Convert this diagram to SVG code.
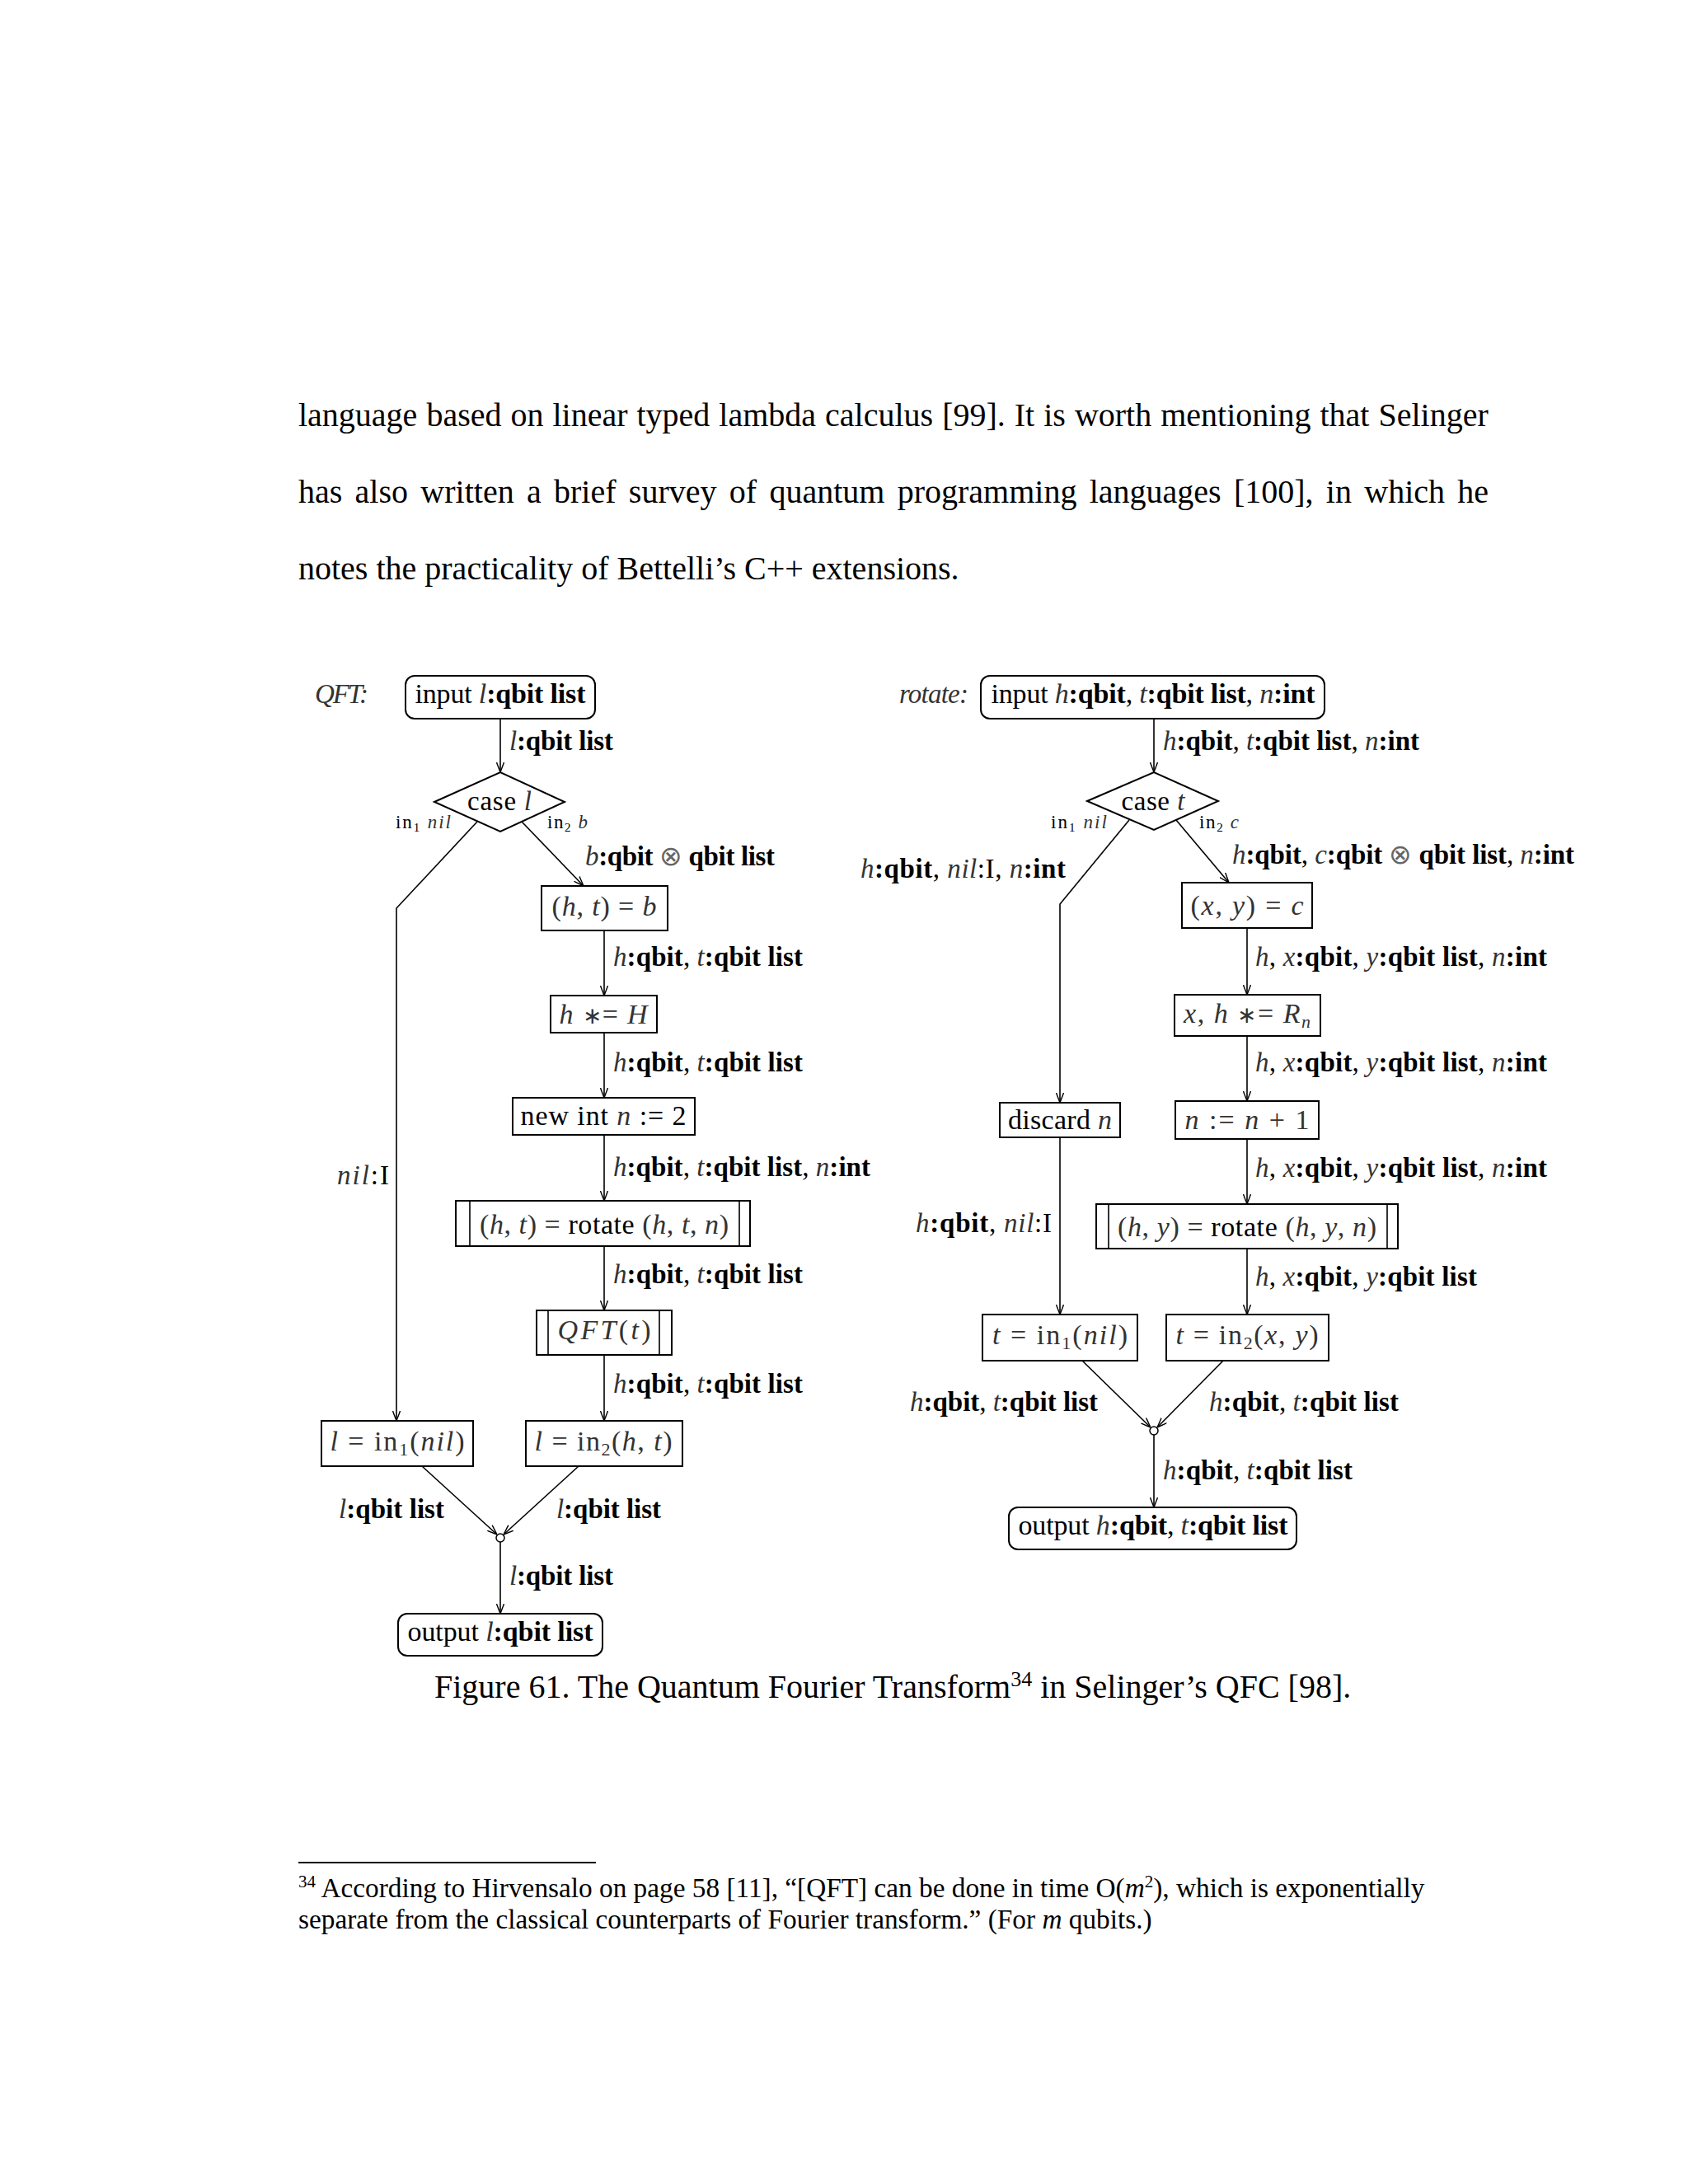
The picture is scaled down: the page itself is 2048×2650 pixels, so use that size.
<svg xmlns="http://www.w3.org/2000/svg" width="2048" height="2650" viewBox="0 0 2048 2650">
<defs>
<style>
.t{font-family:"Liberation Serif","Times New Roman",serif;font-size:33px;fill:#000}
.n{font-size:34px}
.i{font-style:italic;fill:#333}
.b{font-weight:bold}
.m{fill:#333}
.sm{font-size:23px}
.sb{font-size:22px}
.ast{font-size:28px}
.body{font-family:"Liberation Serif","Times New Roman",serif;font-size:40px;fill:#000}
.fn{font-family:"Liberation Serif","Times New Roman",serif;font-size:33.3px;fill:#000}
.box{fill:#fff;stroke:#000;stroke-width:2}
.edge{fill:none;stroke:#000;stroke-width:1.6}
.ea{fill:none;stroke:#000;stroke-width:1.6;marker-end:url(#arr)}
.dot{fill:#fff;stroke:#000;stroke-width:1.5}
</style>
<marker id="arr" viewBox="0 0 12 10" refX="12" refY="5" markerWidth="12" markerHeight="10" markerUnits="userSpaceOnUse" orient="auto">
<path d="M0,0.5 L12,5 L0,9.5" fill="none" stroke="#000" stroke-width="1.4"/>
</marker>
</defs>
<rect width="2048" height="2650" fill="#fff"/>

<g id="body-text">
<text class="body" x="362" y="517" word-spacing="1">language based on linear typed lambda calculus [99]. It is worth mentioning that Selinger</text>
<text class="body" x="362" y="610" word-spacing="5.3">has also written a brief survey of quantum programming languages [100], in which he</text>
<text class="body" x="362" y="703">notes the practicality of Bettelli’s C++ extensions.</text>
</g>

<g id="connectors">
<path class="ea" d="M607,872 V937"/>
<path class="ea" d="M579,997 L481,1102 V1724"/>
<path class="ea" d="M633,997 L708,1075"/>
<path class="ea" d="M733,1129 V1208"/>
<path class="ea" d="M733,1253 V1332"/>
<path class="ea" d="M733,1377 V1457"/>
<path class="ea" d="M733,1512 V1590"/>
<path class="ea" d="M733,1644 V1724"/>
<path class="ea" d="M512,1779 L603,1862"/>
<path class="ea" d="M702,1779 L611,1862"/>
<path class="ea" d="M607,1871 V1958"/>

<path class="ea" d="M1400,872 V937"/>
<path class="ea" d="M1370,995 L1286,1097 V1338"/>
<path class="ea" d="M1286,1380 V1595"/>
<path class="ea" d="M1427,995 L1491,1071"/>
<path class="ea" d="M1513,1126 V1207"/>
<path class="ea" d="M1513,1257 V1336"/>
<path class="ea" d="M1513,1382 V1461"/>
<path class="ea" d="M1513,1515 V1595"/>
<path class="ea" d="M1313,1651 L1396,1732"/>
<path class="ea" d="M1484,1651 L1404,1732"/>
<path class="ea" d="M1400,1741 V1829"/>
</g>

<g id="edge-labels">
<text class="t" x="618" y="910" textLength="126" lengthAdjust="spacing"><tspan class="i">l</tspan><tspan class="b">:qbit list</tspan></text>
<text class="t sm" x="480" y="1005" textLength="67" lengthAdjust="spacing">in<tspan font-size="15" dy="4">1</tspan><tspan class="i" dy="-4"> nil</tspan></text>
<text class="t sm" x="664" y="1005" textLength="49" lengthAdjust="spacing">in<tspan font-size="15" dy="4">2</tspan><tspan class="i" dy="-4"> b</tspan></text>
<text class="t" x="710" y="1050" textLength="230" lengthAdjust="spacing"><tspan class="i">b</tspan><tspan class="b">:qbit </tspan><tspan fill="#666">⊗</tspan><tspan class="b"> qbit list</tspan></text>
<text class="t" x="744" y="1172" textLength="230" lengthAdjust="spacing"><tspan class="i">h</tspan><tspan class="b">:qbit</tspan>, <tspan class="i">t</tspan><tspan class="b">:qbit list</tspan></text>
<text class="t" x="744" y="1300" textLength="230" lengthAdjust="spacing"><tspan class="i">h</tspan><tspan class="b">:qbit</tspan>, <tspan class="i">t</tspan><tspan class="b">:qbit list</tspan></text>
<text class="t" x="744" y="1427" textLength="312" lengthAdjust="spacing"><tspan class="i">h</tspan><tspan class="b">:qbit</tspan>, <tspan class="i">t</tspan><tspan class="b">:qbit list</tspan>, <tspan class="i">n</tspan><tspan class="b">:int</tspan></text>
<text class="t" x="744" y="1557" textLength="230" lengthAdjust="spacing"><tspan class="i">h</tspan><tspan class="b">:qbit</tspan>, <tspan class="i">t</tspan><tspan class="b">:qbit list</tspan></text>
<text class="t" x="744" y="1690" textLength="230" lengthAdjust="spacing"><tspan class="i">h</tspan><tspan class="b">:qbit</tspan>, <tspan class="i">t</tspan><tspan class="b">:qbit list</tspan></text>
<text class="t" x="409" y="1437" textLength="63" lengthAdjust="spacing"><tspan class="i">nil</tspan>:I</text>
<text class="t" x="411" y="1842" textLength="128" lengthAdjust="spacing"><tspan class="i">l</tspan><tspan class="b">:qbit list</tspan></text>
<text class="t" x="675" y="1842" textLength="127" lengthAdjust="spacing"><tspan class="i">l</tspan><tspan class="b">:qbit list</tspan></text>
<text class="t" x="618" y="1923" textLength="126" lengthAdjust="spacing"><tspan class="i">l</tspan><tspan class="b">:qbit list</tspan></text>

<text class="t" x="1411" y="910" textLength="311" lengthAdjust="spacing"><tspan class="i">h</tspan><tspan class="b">:qbit</tspan>, <tspan class="i">t</tspan><tspan class="b">:qbit list</tspan>, <tspan class="i">n</tspan><tspan class="b">:int</tspan></text>
<text class="t sm" x="1275" y="1005" textLength="68" lengthAdjust="spacing">in<tspan font-size="15" dy="4">1</tspan><tspan class="i" dy="-4"> nil</tspan></text>
<text class="t sm" x="1455" y="1005" textLength="48" lengthAdjust="spacing">in<tspan font-size="15" dy="4">2</tspan><tspan class="i" dy="-4"> c</tspan></text>
<text class="t" x="1044" y="1065" textLength="249" lengthAdjust="spacing"><tspan class="i">h</tspan><tspan class="b">:qbit</tspan>, <tspan class="i">nil</tspan>:I, <tspan class="i">n</tspan><tspan class="b">:int</tspan></text>
<text class="t" x="1495" y="1048" textLength="415" lengthAdjust="spacing"><tspan class="i">h</tspan><tspan class="b">:qbit</tspan>, <tspan class="i">c</tspan><tspan class="b">:qbit </tspan><tspan fill="#666">⊗</tspan><tspan class="b"> qbit list</tspan>, <tspan class="i">n</tspan><tspan class="b">:int</tspan></text>
<text class="t" x="1523" y="1172" textLength="354" lengthAdjust="spacing"><tspan class="i">h</tspan>, <tspan class="i">x</tspan><tspan class="b">:qbit</tspan>, <tspan class="i">y</tspan><tspan class="b">:qbit list</tspan>, <tspan class="i">n</tspan><tspan class="b">:int</tspan></text>
<text class="t" x="1523" y="1300" textLength="354" lengthAdjust="spacing"><tspan class="i">h</tspan>, <tspan class="i">x</tspan><tspan class="b">:qbit</tspan>, <tspan class="i">y</tspan><tspan class="b">:qbit list</tspan>, <tspan class="i">n</tspan><tspan class="b">:int</tspan></text>
<text class="t" x="1523" y="1428" textLength="354" lengthAdjust="spacing"><tspan class="i">h</tspan>, <tspan class="i">x</tspan><tspan class="b">:qbit</tspan>, <tspan class="i">y</tspan><tspan class="b">:qbit list</tspan>, <tspan class="i">n</tspan><tspan class="b">:int</tspan></text>
<text class="t" x="1111" y="1495" textLength="165" lengthAdjust="spacing"><tspan class="i">h</tspan><tspan class="b">:qbit</tspan>, <tspan class="i">nil</tspan>:I</text>
<text class="t" x="1523" y="1560" textLength="269" lengthAdjust="spacing"><tspan class="i">h</tspan>, <tspan class="i">x</tspan><tspan class="b">:qbit</tspan>, <tspan class="i">y</tspan><tspan class="b">:qbit list</tspan></text>
<text class="t" x="1104" y="1712" textLength="228" lengthAdjust="spacing"><tspan class="i">h</tspan><tspan class="b">:qbit</tspan>, <tspan class="i">t</tspan><tspan class="b">:qbit list</tspan></text>
<text class="t" x="1467" y="1712" textLength="230" lengthAdjust="spacing"><tspan class="i">h</tspan><tspan class="b">:qbit</tspan>, <tspan class="i">t</tspan><tspan class="b">:qbit list</tspan></text>
<text class="t" x="1411" y="1795" textLength="230" lengthAdjust="spacing"><tspan class="i">h</tspan><tspan class="b">:qbit</tspan>, <tspan class="i">t</tspan><tspan class="b">:qbit list</tspan></text>
</g>

<g id="qft-title"><text class="t i" x="382" y="853" textLength="65" lengthAdjust="spacing">QFT:</text></g>
<g id="qft-input">
<rect class="box" x="492" y="820" width="230" height="52" rx="11"/>
<text class="t n" x="607" y="853" text-anchor="middle" textLength="207" lengthAdjust="spacing">input <tspan class="i">l</tspan><tspan class="b">:qbit list</tspan></text>
</g>
<g id="qft-case">
<polygon class="box" points="527,973 607,937 685,973 607,1009"/>
<text class="t" x="606" y="983" text-anchor="middle" textLength="78" lengthAdjust="spacing">case <tspan class="i">l</tspan></text>
</g>
<g id="qft-split">
<rect class="box" x="657" y="1075" width="153" height="54"/>
<text class="t n m" x="733" y="1111" text-anchor="middle" textLength="127" lengthAdjust="spacing">(<tspan class="i">h</tspan>, <tspan class="i">t</tspan>) = <tspan class="i">b</tspan></text>
</g>
<g id="qft-hadamard">
<rect class="box" x="668" y="1208" width="129" height="45"/>
<text class="t n m" x="732" y="1242" text-anchor="middle" textLength="107" lengthAdjust="spacing"><tspan class="i">h</tspan> <tspan class="ast">∗</tspan>= <tspan class="i">H</tspan></text>
</g>
<g id="qft-newint">
<rect class="box" x="622" y="1332" width="221" height="45"/>
<text class="t n" x="732" y="1365" text-anchor="middle" textLength="201" lengthAdjust="spacing">new int <tspan class="i">n</tspan> := 2</text>
</g>
<g id="qft-rotate">
<rect class="box" x="553" y="1457" width="357" height="55"/>
<path class="edge" d="M570,1457 V1512 M897,1457 V1512" stroke-width="2"/>
<text class="t n m" x="733" y="1497" text-anchor="middle" textLength="302" lengthAdjust="spacing">(<tspan class="i">h</tspan>, <tspan class="i">t</tspan>) = <tspan fill="#000">rotate</tspan> (<tspan class="i">h</tspan>, <tspan class="i">t</tspan>, <tspan class="i">n</tspan>)</text>
</g>
<g id="qft-recurse">
<rect class="box" x="651" y="1590" width="164" height="54"/>
<path class="edge" d="M665,1590 V1644 M800,1590 V1644" stroke-width="2"/>
<text class="t n m" x="733" y="1625" text-anchor="middle" textLength="113" lengthAdjust="spacing"><tspan class="i">QFT</tspan>(<tspan class="i">t</tspan>)</text>
</g>
<g id="qft-in1">
<rect class="box" x="390" y="1724" width="184" height="55"/>
<text class="t n m" x="482" y="1760" text-anchor="middle" textLength="163" lengthAdjust="spacing"><tspan class="i">l</tspan> = in<tspan class="sb" dy="6">1</tspan><tspan dy="-6">(</tspan><tspan class="i">nil</tspan>)</text>
</g>
<g id="qft-in2">
<rect class="box" x="638" y="1724" width="190" height="55"/>
<text class="t n m" x="732" y="1760" text-anchor="middle" textLength="167" lengthAdjust="spacing"><tspan class="i">l</tspan> = in<tspan class="sb" dy="6">2</tspan><tspan dy="-6">(</tspan><tspan class="i">h</tspan>, <tspan class="i">t</tspan>)</text>
</g>
<g id="qft-merge"><circle class="dot" cx="607" cy="1866" r="5"/></g>
<g id="qft-output">
<rect class="box" x="483" y="1958" width="248" height="51" rx="11"/>
<text class="t n" x="607" y="1991" text-anchor="middle" textLength="225" lengthAdjust="spacing">output <tspan class="i">l</tspan><tspan class="b">:qbit list</tspan></text>
</g>

<g id="rot-title"><text class="t i" x="1091" y="853" textLength="84" lengthAdjust="spacing">rotate:</text></g>
<g id="rot-input">
<rect class="box" x="1190" y="820" width="417" height="52" rx="11"/>
<text class="t n" x="1399" y="853" text-anchor="middle" textLength="393" lengthAdjust="spacing">input <tspan class="i">h</tspan><tspan class="b">:qbit</tspan>, <tspan class="i">t</tspan><tspan class="b">:qbit list</tspan>, <tspan class="i">n</tspan><tspan class="b">:int</tspan></text>
</g>
<g id="rot-case">
<polygon class="box" points="1319,972 1400,937 1478,972 1400,1007"/>
<text class="t" x="1399" y="983" text-anchor="middle" textLength="77" lengthAdjust="spacing">case <tspan class="i">t</tspan></text>
</g>
<g id="rot-split">
<rect class="box" x="1434" y="1071" width="158" height="55"/>
<text class="t n m" x="1513" y="1110" text-anchor="middle" textLength="137" lengthAdjust="spacing">(<tspan class="i">x</tspan>, <tspan class="i">y</tspan>) = <tspan class="i">c</tspan></text>
</g>
<g id="rot-gate">
<rect class="box" x="1425" y="1207" width="177" height="50"/>
<text class="t n m" x="1513" y="1241" text-anchor="middle" textLength="154" lengthAdjust="spacing"><tspan class="i">x</tspan>, <tspan class="i">h</tspan> <tspan class="ast">∗</tspan>= <tspan class="i">R</tspan><tspan class="i sb" dy="6">n</tspan></text>
</g>
<g id="rot-discard">
<rect class="box" x="1213" y="1338" width="146" height="42"/>
<text class="t n" x="1286" y="1370" text-anchor="middle" textLength="126" lengthAdjust="spacing">discard <tspan class="i">n</tspan></text>
</g>
<g id="rot-incr">
<rect class="box" x="1426" y="1336" width="174" height="46"/>
<text class="t n m" x="1513" y="1370" text-anchor="middle" textLength="151" lengthAdjust="spacing"><tspan class="i">n</tspan> := <tspan class="i">n</tspan> + 1</text>
</g>
<g id="rot-recurse">
<rect class="box" x="1330" y="1461" width="366" height="54"/>
<path class="edge" d="M1345,1461 V1515 M1683,1461 V1515" stroke-width="2"/>
<text class="t n m" x="1513" y="1500" text-anchor="middle" textLength="314" lengthAdjust="spacing">(<tspan class="i">h</tspan>, <tspan class="i">y</tspan>) = <tspan fill="#000">rotate</tspan> (<tspan class="i">h</tspan>, <tspan class="i">y</tspan>, <tspan class="i">n</tspan>)</text>
</g>
<g id="rot-in1">
<rect class="box" x="1192" y="1595" width="188" height="56"/>
<text class="t n m" x="1286" y="1631" text-anchor="middle" textLength="164" lengthAdjust="spacing"><tspan class="i">t</tspan> = in<tspan class="sb" dy="6">1</tspan><tspan dy="-6">(</tspan><tspan class="i">nil</tspan>)</text>
</g>
<g id="rot-in2">
<rect class="box" x="1415" y="1595" width="197" height="56"/>
<text class="t n m" x="1513" y="1631" text-anchor="middle" textLength="173" lengthAdjust="spacing"><tspan class="i">t</tspan> = in<tspan class="sb" dy="6">2</tspan><tspan dy="-6">(</tspan><tspan class="i">x</tspan>, <tspan class="i">y</tspan>)</text>
</g>
<g id="rot-merge"><circle class="dot" cx="1400" cy="1736" r="5"/></g>
<g id="rot-output">
<rect class="box" x="1224" y="1829" width="349" height="51" rx="11"/>
<text class="t n" x="1399" y="1862" text-anchor="middle" textLength="327" lengthAdjust="spacing">output <tspan class="i">h</tspan><tspan class="b">:qbit</tspan>, <tspan class="i">t</tspan><tspan class="b">:qbit list</tspan></text>
</g>

<g id="caption">
<text class="body" x="527" y="2060">Figure 61. The Quantum Fourier Transform<tspan font-size="26" dy="-14">34</tspan><tspan dy="14"> in Selinger’s QFC [98].</tspan></text>
</g>

<g id="footnote">
<line x1="362" y1="2260" x2="723" y2="2260" stroke="#000" stroke-width="2"/>
<text class="fn" x="362" y="2302"><tspan font-size="21" dy="-12">34</tspan><tspan dy="12"> According to Hirvensalo on page 58 [11], “[QFT] can be done in time O(</tspan><tspan font-style="italic">m</tspan><tspan font-size="21" dy="-12">2</tspan><tspan dy="12">), which is exponentially</tspan></text>
<text class="fn" x="362" y="2340">separate from the classical counterparts of Fourier transform.” (For <tspan font-style="italic">m</tspan> qubits.)</text>
</g>
</svg>
